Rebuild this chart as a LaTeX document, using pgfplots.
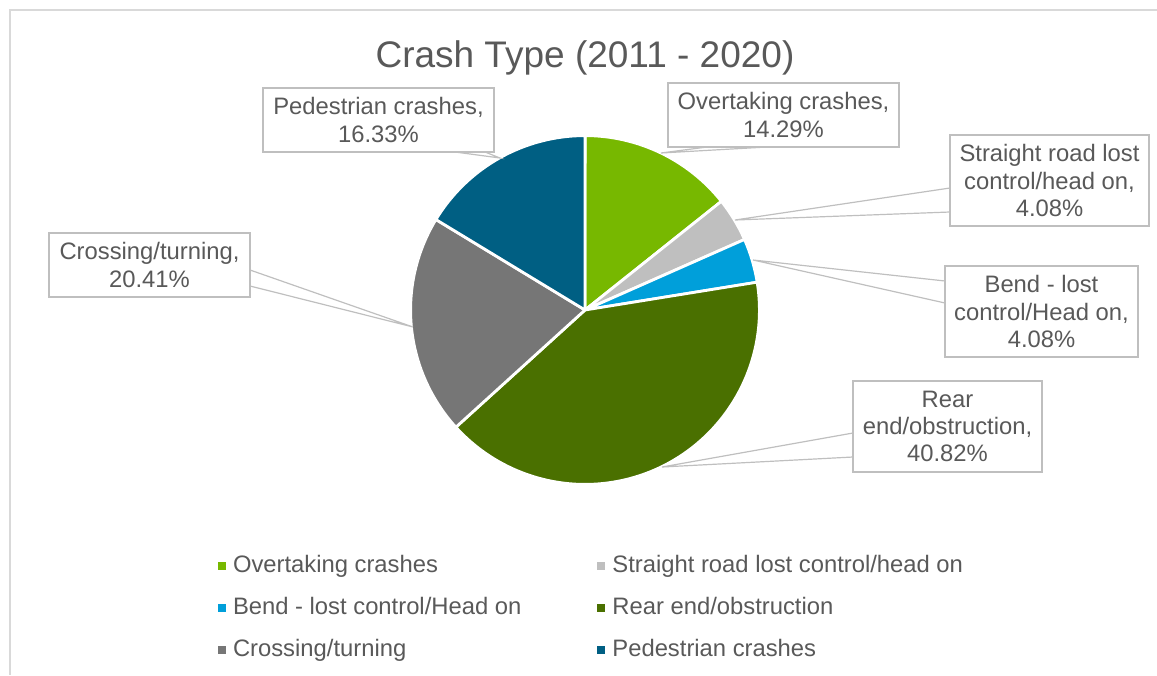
\documentclass[border=0pt]{standalone}
\usepackage{pgfplots}
\pgfplotsset{compat=1.18}
\usepackage{fontspec}
\setmainfont{Liberation Sans}
\definecolor{txt}{HTML}{595959}
\definecolor{cOver}{HTML}{77B800}
\definecolor{cStraight}{HTML}{BFBFBF}
\definecolor{cBend}{HTML}{009FDA}
\definecolor{cRear}{HTML}{4A7000}
\definecolor{cCross}{HTML}{767676}
\definecolor{cPed}{HTML}{005F83}
\definecolor{boxline}{HTML}{BFBFBF}
\definecolor{framec}{HTML}{D9D9D9}
\begin{document}
\begin{tikzpicture}
\begin{axis}[
  hide axis, scale only axis, width=578.5pt, height=337.5pt,
  xmin=0, xmax=1157, ymin=0, ymax=675, y dir=reverse, clip=false,
  legend columns=2,
  legend cell align=left,
  legend style={draw=none, fill=none, at={(0.18842,0.18296)}, anchor=north west,
     inner sep=0pt, outer sep=0pt,
     font=\fontsize{11.9}{13.7}\selectfont, row sep=9pt,
     nodes={inner sep=0pt, outer sep=0pt, text=txt},
     /tikz/every odd column/.append style={column sep=3.5pt},
     /tikz/every even column/.append style={column sep=38pt, text height=10.5pt, text depth=2pt}},
  legend image code/.code={\fill[#1, draw=none] (0pt,-3pt) rectangle (4pt,1pt);},
]
% frame
\draw[framec, line width=0.6pt] (axis cs:1157,10) -- (axis cs:10,10) -- (axis cs:10,675);
% pie slices: percentages, clockwise from 12 o'clock
\gdef\startang{90}
\foreach \v/\c in {14.29/cOver, 4.08/cStraight, 4.08/cBend, 40.82/cRear, 20.41/cCross, 16.33/cPed}{
  \pgfmathsetmacro\endang{\startang-\v*3.6}
  \edef\temp{\noexpand\fill[\c, draw=white, line width=1.4pt, line join=round]
    (axis cs:585,310) -- ++(\startang:87.2pt) arc[start angle=\startang, end angle=\endang, radius=87.2pt] -- cycle;}
  \temp
  \global\let\startang\endang
}
% title
\node[anchor=base, text=txt, font=\fontsize{18.5}{22}\selectfont] at (axis cs:585,67) {Crash Type (2011 - 2020)};
% leader lines
\draw[boxline, line width=0.6pt] (axis cs:455,152) -- (axis cs:500,158) -- (axis cs:485,152);
\draw[boxline, line width=0.6pt] (axis cs:707,147) -- (axis cs:661,153) -- (axis cs:767,147);
\draw[boxline, line width=0.6pt] (axis cs:950,188) -- (axis cs:735,220) -- (axis cs:950,212);
\draw[boxline, line width=0.6pt] (axis cs:945,281) -- (axis cs:753,260) -- (axis cs:945,303);
\draw[boxline, line width=0.6pt] (axis cs:853,433) -- (axis cs:662,467) -- (axis cs:853,457);
\draw[boxline, line width=0.6pt] (axis cs:250,270) -- (axis cs:413,327) -- (axis cs:250,286);
% data labels
\tikzset{lbl/.style={draw=boxline, fill=white, line width=0.6pt, text=txt, align=center, inner sep=0pt,
   font=\fontsize{11.9}{13.7}\selectfont}}
\node[lbl, minimum width=115.5pt, minimum height=32pt] at (axis cs:378.5,120) {Pedestrian crashes,\\16.33\%};
\node[lbl, minimum width=115.5pt, minimum height=32pt] at (axis cs:783.5,115) {Overtaking crashes,\\14.29\%};
\node[lbl, minimum width=99.5pt, minimum height=45.5pt] at (axis cs:1049.5,180.5) {Straight road lost\\control/head on,\\4.08\%};
\node[lbl, minimum width=96.5pt, minimum height=45.5pt] at (axis cs:1041.5,311.5) {Bend - lost\\control/Head on,\\4.08\%};
\node[lbl, minimum width=94.5pt, minimum height=45.5pt] at (axis cs:947.5,426.5) {Rear\\end/obstruction,\\40.82\%};
\node[lbl, minimum width=100.5pt, minimum height=32pt] at (axis cs:149.5,265) {Crossing/turning,\\20.41\%};
% legend
\addlegendimage{cOver}\addlegendentry{Overtaking crashes}
\addlegendimage{cStraight}\addlegendentry{Straight road lost control/head on}
\addlegendimage{cBend}\addlegendentry{Bend - lost control/Head on}
\addlegendimage{cRear}\addlegendentry{Rear end/obstruction}
\addlegendimage{cCross}\addlegendentry{Crossing/turning}
\addlegendimage{cPed}\addlegendentry{Pedestrian crashes}
\end{axis}
\pgfresetboundingbox
\path (0,0) rectangle (578.5pt,337.5pt);
\end{tikzpicture}
\end{document}
